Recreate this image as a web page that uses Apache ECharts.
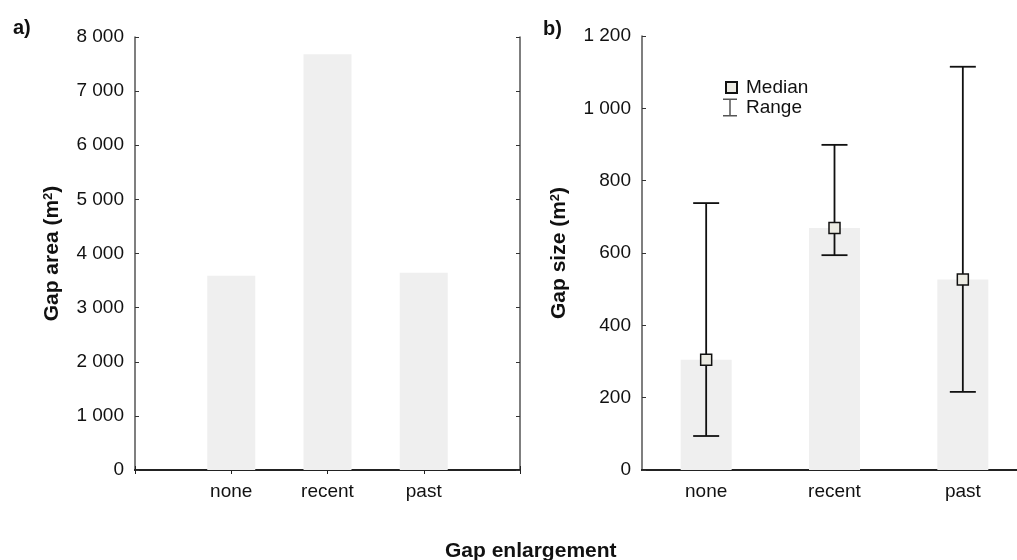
<!DOCTYPE html>
<html>
<head>
<meta charset="utf-8">
<script src="https://cdn.jsdelivr.net/npm/echarts@6/dist/echarts.min.js"></script>
<style>
html,body{margin:0;padding:0;background:#fff;}
#chart{width:1017px;height:560px;}
</style>
</head>
<body>
<div id="chart"></div>
<script>
// ---- data ----
const categories = ['none', 'recent', 'past'];
const gapArea = [3590, 7680, 3645];          // panel a) bars (m2)
const sizeBars = [305, 669, 527];            // panel b) bars (m2)
const medians = [305, 669, 527];             // panel b) median markers
const rangeLow = [94, 594, 216];             // panel b) range minimum
const rangeHigh = [738, 899, 1115];          // panel b) range maximum
const areaAxis = { min: 0, max: 8000, interval: 1000 };
const sizeAxis = { min: 0, max: 1200, interval: 200 };
const panelLabels = ['a)', 'b)'];
const xTitle = 'Gap enlargement';

const FONT = '"Liberation Sans", Arial, sans-serif';
const TXT = '#111';
const fmt = v => String(v).replace(/\B(?=(\d{3})+(?!\d))/g, ' ');

const leftCats = [''].concat(categories, ['']);
const leftBarData = ['-'].concat(gapArea, ['-']);

function frameAxisX(grid, data, pos, boundaryGap, lw) {
  return {
    type: 'category', gridIndex: grid, data: data, position: pos, boundaryGap: boundaryGap,
    axisLine: { lineStyle: { color: '#222', width: lw } },
    axisTick: { inside: true, length: 4, lineStyle: { color: '#222', width: 1 } },
    axisLabel: { show: pos === 'bottom', margin: 12, fontSize: 19, fontFamily: FONT, color: TXT },
    splitLine: { show: false }
  };
}
function frameAxisY(grid, sc, pos, name) {
  const ax = {
    type: 'value', gridIndex: grid, position: pos, min: sc.min, max: sc.max, interval: sc.interval,
    axisLine: { show: true, lineStyle: { color: '#555', width: 1.5 } },
    axisTick: { show: true, inside: true, length: 4, lineStyle: { color: '#333', width: 1 } },
    axisLabel: { show: pos === 'left', margin: 11, fontSize: 19, fontFamily: FONT, color: TXT, formatter: fmt },
    splitLine: { show: false }
  };
  if (name) {
    ax.name = name;
    ax.nameLocation = 'middle';
    ax.nameRotate = 90;
    ax.nameGap = 72;
    ax.nameTextStyle = {
      fontSize: 21, fontWeight: 'bold', fontFamily: FONT, color: TXT,
      rich: { sup: { fontSize: 13, fontWeight: 'bold', fontFamily: FONT, color: TXT, verticalAlign: 'top', lineHeight: 12 } }
    };
  }
  return ax;
}

const option = {
  backgroundColor: '#fff',
  animation: false,
  textStyle: { fontFamily: FONT },
  title: [
    { text: panelLabels[0], left: 8, top: 13, textStyle: { fontSize: 20, fontWeight: 'bold', color: TXT, fontFamily: FONT } },
    { text: panelLabels[1], left: 538, top: 14, textStyle: { fontSize: 20, fontWeight: 'bold', color: TXT, fontFamily: FONT } },
    { text: xTitle, left: 440, top: 536, textStyle: { fontSize: 21, fontWeight: 'bold', color: TXT, fontFamily: FONT } }
  ],
  legend: [
    { data: ['Median'], orient: 'vertical', left: 720, top: 73, itemWidth: 11, itemHeight: 11,
      textStyle: { fontSize: 19, color: TXT, fontFamily: FONT, padding: [0, 0, 0, 4] } },
    { data: [{ name: 'Range', icon: 'path://M0,0 L14,0 L14,1.5 L7.75,1.5 L7.75,16.5 L14,16.5 L14,18 L0,18 L0,16.5 L6.25,16.5 L6.25,1.5 L0,1.5 Z', itemStyle: { color: '#555' } }],
      orient: 'vertical', left: 718, top: 93, itemWidth: 14, itemHeight: 18,
      textStyle: { fontSize: 19, color: TXT, fontFamily: FONT, padding: [0, 0, 0, 4] } }
  ],
  grid: [
    { left: 135, top: 37, width: 385, height: 433, outerBoundsMode: 'none', containLabel: false },
    { left: 642, top: 36, width: 385, height: 434, outerBoundsMode: 'none', containLabel: false }
  ],
  xAxis: [
    frameAxisX(0, leftCats, 'bottom', false, 2),
    frameAxisX(0, leftCats, 'top', false, 2),
    frameAxisX(1, categories, 'bottom', true, 2),
    frameAxisX(1, categories, 'top', true, 2)
  ],
  yAxis: [
    frameAxisY(0, areaAxis, 'left', 'Gap area (m{sup|2})'),
    frameAxisY(0, areaAxis, 'right'),
    frameAxisY(1, sizeAxis, 'left', 'Gap size (m{sup|2})'),
    frameAxisY(1, sizeAxis, 'right')
  ],
  series: [
    { name: 'Gap area', type: 'bar', xAxisIndex: 0, yAxisIndex: 0, data: leftBarData, barWidth: 48,
      itemStyle: { color: '#efefef' }, z: 1 },
    { name: 'Gap size', type: 'bar', xAxisIndex: 2, yAxisIndex: 2, data: sizeBars, barWidth: 51,
      itemStyle: { color: '#efefef' }, z: 1 },
    { name: 'Range', type: 'custom', xAxisIndex: 2, yAxisIndex: 2,
      data: categories.map((c, i) => [i, rangeLow[i], rangeHigh[i]]),
      encode: { x: 0, y: [1, 2] },
      itemStyle: { color: '#111' },
      z: 3,
      renderItem: function (params, api) {
        const i = api.value(0);
        const lo = api.coord([i, api.value(1)]);
        const hi = api.coord([i, api.value(2)]);
        const w = 13;
        const st = { stroke: '#111', lineWidth: 1.8 };
        return { type: 'group', children: [
          { type: 'line', shape: { x1: lo[0], y1: lo[1], x2: hi[0], y2: hi[1] }, style: st },
          { type: 'line', shape: { x1: lo[0] - w, y1: lo[1], x2: lo[0] + w, y2: lo[1] }, style: st },
          { type: 'line', shape: { x1: hi[0] - w, y1: hi[1], x2: hi[0] + w, y2: hi[1] }, style: st }
        ] };
      }
    },
    { name: 'Median', type: 'scatter', xAxisIndex: 2, yAxisIndex: 2, data: medians,
      symbol: 'rect', symbolSize: 11, z: 5,
      itemStyle: { color: '#ecebe3', borderColor: '#111', borderWidth: 1.5, opacity: 1 } }
  ]
};

const chart = echarts.init(document.getElementById('chart'), null, { renderer: 'canvas' });
chart.setOption(option);
</script>
</body>
</html>
